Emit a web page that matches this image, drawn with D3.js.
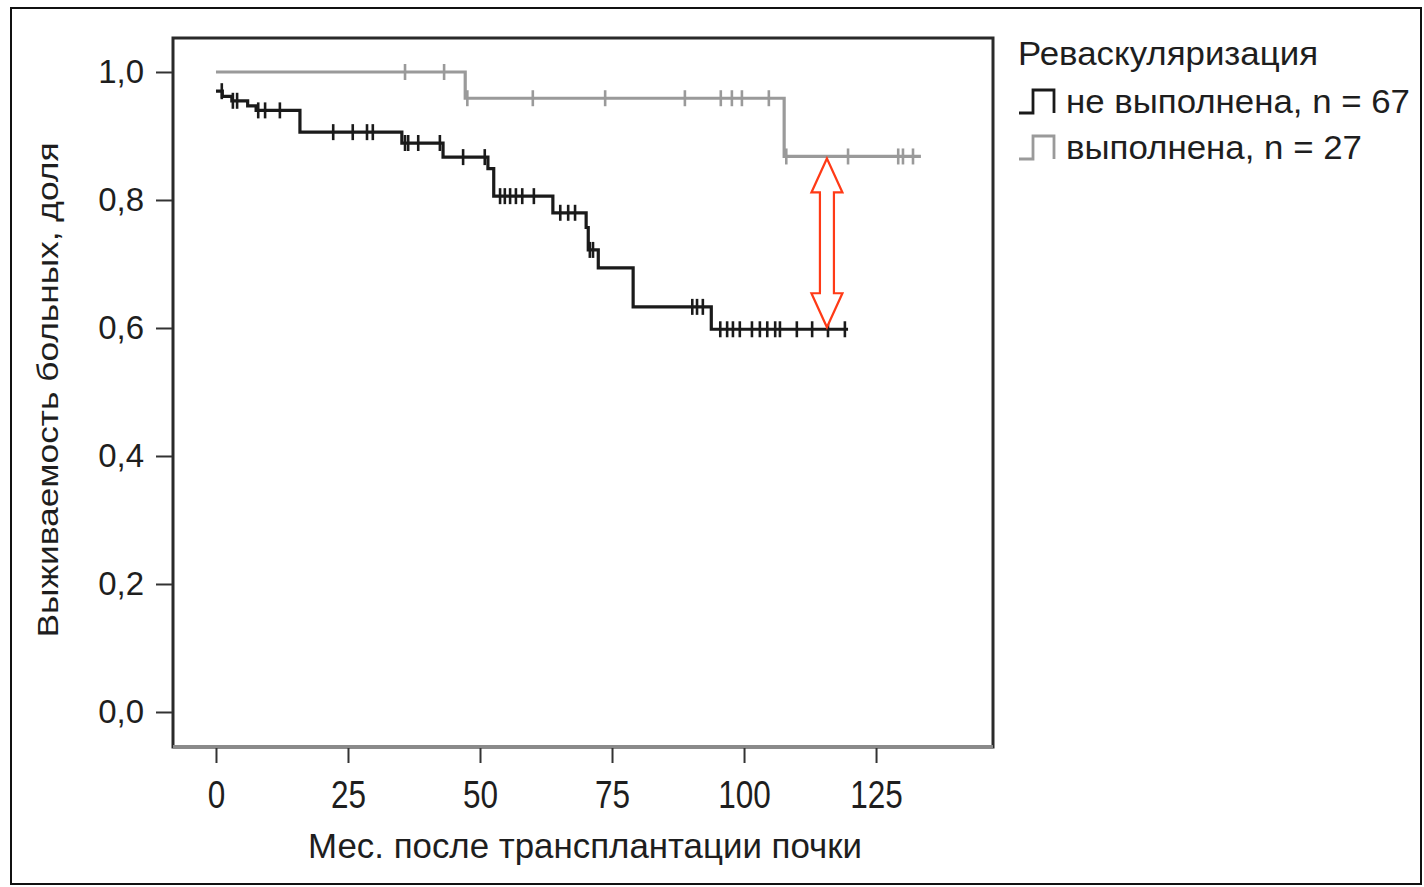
<!DOCTYPE html>
<html><head><meta charset="utf-8">
<script src="https://cdn.jsdelivr.net/npm/d3@7"></script>
<style>
html,body{margin:0;padding:0;background:#fff;}
svg{display:block;}
text{font-family:"Liberation Sans",Arial,sans-serif;fill:#1e1e1e;}
</style></head>
<body>
<svg id="chart" width="1424" height="887"></svg>
<script>
// ---- data ----
const timeTicks = [0, 25, 50, 75, 100, 125];
const survTicks = [0, 0.2, 0.4, 0.6, 0.8, 1.0];
const survTickLabels = ["0,0", "0,2", "0,4", "0,6", "0,8", "1,0"];

// "не выполнена, n = 67"
const notDoneTimes = [0, 1.2, 3.0, 6.0, 7.6, 15.9, 35.2, 43.0, 51.5, 52.6, 63.8, 70.1, 70.5, 72.4, 79.0, 93.8];
const notDoneSurv  = [0.970, 0.962, 0.955, 0.947, 0.940, 0.906, 0.889, 0.867, 0.849, 0.806, 0.780, 0.757, 0.722, 0.694, 0.633, 0.598];
const notDoneEnd = 119.7;
const notDoneCensor = [1.1, 3.2, 4.0, 8.0, 9.3, 12.1, 22.2, 25.9, 28.6, 29.7, 35.8, 36.4, 38.3, 42.4, 46.8, 50.9,
  53.8, 54.7, 55.7, 56.8, 58.0, 60.2, 65.2, 66.7, 68.0, 70.8, 71.4, 90.2, 91.1, 92.2, 95.5, 96.8, 97.9, 99.2,
  101.5, 103.0, 104.4, 105.9, 106.8, 110.0, 112.9, 115.9, 119.1];

// "выполнена, n = 27"
const doneTimes = [0, 47.2, 107.6];
const doneSurv  = [1.0, 0.959, 0.868];
const doneEnd = 133.5;
const doneCensor = [35.8, 43.2, 47.6, 60.0, 73.7, 88.8, 95.6, 97.7, 99.6, 104.7, 108.0, 119.7, 129.2, 130.1, 132.0];

const arrowTime = 115.7;
const arrowFrom = 0.868, arrowTo = 0.598;

const legendTitle = "Реваскуляризация";
const legendLabels = ["не выполнена, n = 67", "выполнена, n = 27"];
const xTitle = "Мес. после трансплантации почки";
const yTitle = "Выживаемость больных, доля";

// ---- layout ----
const svg = d3.select("#chart");
const box = {left: 173, top: 38, right: 993, bottom: 747};
const x = d3.scaleLinear().domain([-8.14, 147.15]).range([box.left, box.right]);
const y = d3.scaleLinear().domain([-0.0547, 1.0531]).range([box.bottom, box.top]);

// outer frame
svg.append("rect").attr("x", 11).attr("y", 8).attr("width", 1410).attr("height", 876)
  .attr("fill", "none").attr("stroke", "#111").attr("stroke-width", 2);

// plot box
svg.append("rect").attr("x", box.left).attr("y", box.top)
  .attr("width", box.right - box.left).attr("height", box.bottom - box.top)
  .attr("fill", "none").attr("stroke", "#2a2a2a").attr("stroke-width", 3);
svg.append("line").attr("x1", box.left).attr("x2", box.right)
  .attr("y1", box.bottom).attr("y2", box.bottom)
  .attr("stroke", "#8a8a8a").attr("stroke-width", 4);

// y axis
const yAxis = d3.axisLeft(y).tickValues(survTicks).tickSize(16).tickPadding(12)
  .tickFormat((d, i) => survTickLabels[i]);
const gy = svg.append("g").attr("transform", `translate(${box.left - 1},0)`).call(yAxis);
gy.select(".domain").remove();
gy.selectAll(".tick line").attr("stroke", "#333").attr("stroke-width", 2);
gy.selectAll(".tick text").attr("font-size", 33).attr("fill", "#1e1e1e")
  .attr("font-family", "Liberation Sans, Arial, sans-serif");

// x axis
const xAxis = d3.axisBottom(x).tickValues(timeTicks).tickSize(15).tickPadding(0).tickFormat(d3.format("d"));
const gx = svg.append("g").attr("transform", `translate(0,${box.bottom + 1})`).call(xAxis);
gx.select(".domain").remove();
gx.selectAll(".tick line").attr("stroke", "#333").attr("stroke-width", 2);
gx.selectAll(".tick text").attr("font-size", 38).attr("fill", "#1e1e1e")
  .attr("font-family", "Liberation Sans, Arial, sans-serif")
  .attr("dy", null).attr("y", 60).attr("x", 0)
  .attr("transform", "scale(0.83,1)");

// axis titles
svg.append("text").attr("x", 585).attr("y", 858).attr("text-anchor", "middle")
  .attr("font-size", 35).attr("textLength", 554).attr("lengthAdjust", "spacingAndGlyphs")
  .text(xTitle);
svg.append("text").attr("transform", "translate(58,390) rotate(-90)").attr("text-anchor", "middle")
  .attr("font-size", 30).attr("textLength", 495).attr("lengthAdjust", "spacingAndGlyphs")
  .text(yTitle);

// ---- survival step lines ----
function stepPath(times, surv, end) {
  const pts = times.map((t, i) => [t, surv[i]]);
  pts.push([end, surv[surv.length - 1]]);
  return d3.line().x(d => x(d[0])).y(d => y(d[1])).curve(d3.curveStepAfter)(pts);
}
function survAt(times, surv, t) {
  let s = surv[0];
  for (let i = 0; i < times.length; i++) if (times[i] <= t) s = surv[i];
  return s;
}
const series = [
  {times: doneTimes, surv: doneSurv, end: doneEnd, censor: doneCensor, color: "#9a9a9a", w: 3.2},
  {times: notDoneTimes, surv: notDoneSurv, end: notDoneEnd, censor: notDoneCensor, color: "#1a1a1a", w: 3.2}
];
series.forEach(s => {
  svg.append("path").attr("d", stepPath(s.times, s.surv, s.end))
    .attr("fill", "none").attr("stroke", s.color).attr("stroke-width", s.w)
    .attr("stroke-linejoin", "miter");
  svg.append("g").selectAll("line").data(s.censor).join("line")
    .attr("x1", d => x(d)).attr("x2", d => x(d))
    .attr("y1", d => y(survAt(s.times, s.surv, d)) - 8)
    .attr("y2", d => y(survAt(s.times, s.surv, d)) + 8)
    .attr("stroke", s.color).attr("stroke-width", 2.6);
});

// ---- red double arrow ----
(function() {
  const cx = x(arrowTime), y1 = y(arrowFrom) + 2, y2 = y(arrowTo) - 2;
  const hw = 15.5, sw = 7, hl = 34;
  const p = d3.path();
  p.moveTo(cx, y1);
  p.lineTo(cx + hw, y1 + hl); p.lineTo(cx + sw, y1 + hl);
  p.lineTo(cx + sw, y2 - hl); p.lineTo(cx + hw, y2 - hl);
  p.lineTo(cx, y2);
  p.lineTo(cx - hw, y2 - hl); p.lineTo(cx - sw, y2 - hl);
  p.lineTo(cx - sw, y1 + hl); p.lineTo(cx - hw, y1 + hl);
  p.closePath();
  svg.append("path").attr("d", p.toString()).attr("fill", "#fff")
    .attr("stroke", "#ff3a16").attr("stroke-width", 2.2).attr("stroke-linejoin", "miter");
})();

// ---- legend ----
svg.append("text").attr("x", 1018).attr("y", 65).attr("font-size", 33)
  .attr("textLength", 300).attr("lengthAdjust", "spacingAndGlyphs").text(legendTitle);
const legColors = ["#1a1a1a", "#9a9a9a"];
const legWidths = [344, 296];
legendLabels.forEach((lab, i) => {
  const by = 113 + i * 46;
  svg.append("path")
    .attr("d", `M1019,${by} H1033 V${by - 23} H1054 V${by}`)
    .attr("fill", "none").attr("stroke", legColors[i]).attr("stroke-width", 2.8);
  svg.append("text").attr("x", 1066).attr("y", by).attr("font-size", 33)
    .attr("textLength", legWidths[i]).attr("lengthAdjust", "spacingAndGlyphs").text(lab);
});
</script>
</body></html>
